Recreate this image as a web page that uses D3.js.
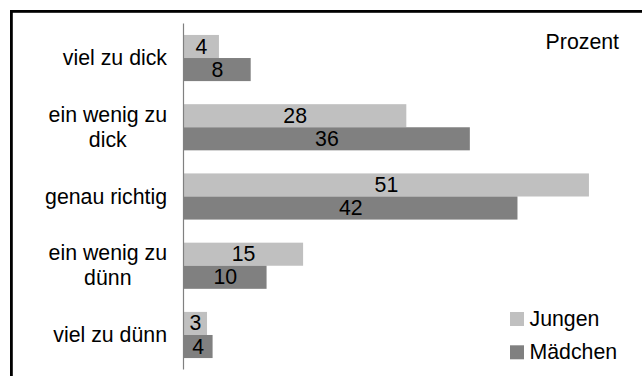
<!DOCTYPE html>
<html>
<head>
<meta charset="utf-8">
<script src="https://cdn.jsdelivr.net/npm/d3@7"></script>
<style>
  html, body { margin: 0; padding: 0; background: #fff; }
  svg { display: block; }
  text { font-family: "Liberation Sans", Arial, sans-serif; fill: #000; }
</style>
</head>
<body>
<svg id="chart" width="642" height="376"></svg>
<script>
// Data
const categories = [["viel zu dick"], ["ein wenig zu", "dick"], ["genau richtig"], ["ein wenig zu", "dünn"], ["viel zu dünn"]];
const seriesNames = ["Jungen", "Mädchen"];
const jungen = [4.4, 28, 51, 15, 2.9];
const maedchen = [8.4, 36, 42, 10.4, 3.6];
const unitLabel = "Prozent";

const colors = ["#c0c0c0", "#808080"];
const FS = 21.3;
const svg = d3.select("#chart");

// Frame
svg.append("rect")
  .attr("x", 11.4).attr("y", 11.4)
  .attr("width", 700).attr("height", 400)
  .attr("fill", "none").attr("stroke", "#000").attr("stroke-width", 2.8);

const keys = categories.map((c, i) => i);
const y = d3.scaleBand().domain(keys).range([23.4, 369.6]).paddingInner(1/3).paddingOuter(1/6);
const ySub = d3.scaleBand().domain([0, 1]).range([0, y.bandwidth()]);
const x = d3.scaleLinear().domain([0, 60]).range([184, 184 + 60 * 7.94]);

const series = [jungen, maedchen];
const fmt = d3.format(".0f");

series.forEach((vals, s) => {
  const g = svg.append("g");
  g.selectAll("rect").data(vals).join("rect")
    .attr("x", x(0))
    .attr("y", (d, i) => y(i) + ySub(s))
    .attr("width", d => x(d) - x(0))
    .attr("height", ySub.bandwidth())
    .attr("fill", colors[s]);
  g.selectAll("text").data(vals).join("text")
    .attr("x", d => (x(0) + x(d)) / 2)
    .attr("y", (d, i) => y(i) + ySub(s) + ySub.bandwidth() / 2)
    .attr("dy", "0.33em")
    .attr("text-anchor", "middle")
    .attr("font-size", FS)
    .text(d => fmt(d));
});

// Axis line
svg.append("line")
  .attr("x1", 183.5).attr("x2", 183.5)
  .attr("y1", y.range()[0]).attr("y2", y.range()[1])
  .attr("stroke", "#808080").attr("stroke-width", 1.2);

// Category labels
const lineH = 25;
categories.forEach((lines, i) => {
  const cy = y(i) + y.bandwidth() / 2;
  const g = svg.append("g");
  const ts = lines.map((ln, j) => g.append("text")
    .attr("font-size", FS)
    .attr("text-anchor", "middle")
    .attr("y", cy + (j - (lines.length - 1) / 2) * lineH)
    .attr("dy", "0.33em")
    .text(ln));
  const maxW = d3.max(ts, t => t.node().getComputedTextLength());
  ts.forEach(t => t.attr("x", 167 - maxW / 2));
});

// Unit label
svg.append("text")
  .attr("x", 619).attr("y", 49.3)
  .attr("text-anchor", "end")
  .attr("font-size", FS)
  .text(unitLabel);

// Legend
seriesNames.forEach((nm, s) => {
  const ly = 312 + s * 33.3;
  svg.append("rect").attr("x", 510).attr("y", ly).attr("width", 14).attr("height", 14).attr("fill", colors[s]);
  svg.append("text").attr("x", 529.5).attr("y", ly + 7).attr("dy", "0.33em")
    .attr("font-size", FS).text(nm);
});
</script>
</body>
</html>
